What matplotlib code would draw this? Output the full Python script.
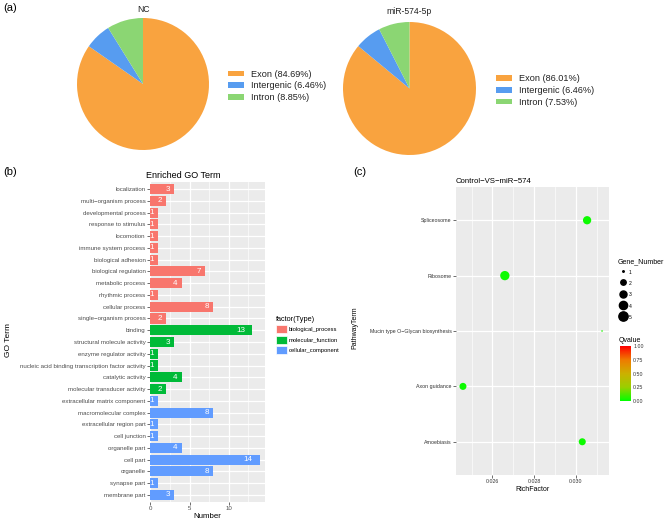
import numpy as np
import matplotlib
matplotlib.use("Agg")
from matplotlib import pyplot as plt
from matplotlib.patches import Patch
from matplotlib.lines import Line2D
from matplotlib.colors import LinearSegmentedColormap, Normalize
from matplotlib.ticker import MultipleLocator

plt.rcParams['font.family'] = ['Liberation Sans', 'DejaVu Sans']

# (a) pie data
pie_names = ["Exon", "Intergenic", "Intron"]
nc_pct = [84.69, 6.46, 8.85]
mir_pct = [86.01, 6.46, 7.53]
pie_colors = ["#f9a33f", "#579cf0", "#8bd673"]

# (b) enriched GO terms
go_terms = ["localization", "multi\u2212organism process", "developmental process",
            "response to stimulus", "locomotion", "immune system process",
            "biological adhesion", "biological regulation", "metabolic process",
            "rhythmic process", "cellular process", "single\u2212organism process",
            "binding", "structural molecule activity", "enzyme regulator activity",
            "nucleic acid binding transcription factor activity", "catalytic activity",
            "molecular transducer activity", "extracellular matrix component",
            "macromolecular complex", "extracellular region part", "cell junction",
            "organelle part", "cell part", "organelle", "synapse part", "membrane part"]
go_counts = [3, 2, 1, 1, 1, 1, 1, 7, 4, 1, 8, 2,
             13, 3, 1, 1, 4, 2,
             1, 8, 1, 1, 4, 14, 8, 1, 3]
go_types = (["biological_process"] * 12 + ["molecular_function"] * 6
            + ["cellular_component"] * 9)
type_names = ["biological_process", "molecular_function", "cellular_component"]
type_colors = ["#F8766D", "#00BA38", "#619CFF"]

# (c) KEGG enrichment
pathways = ["Spliceosome", "Ribosome", "Mucin type O\u2212Glycan biosynthesis",
            "Axon guidance", "Amoebiasis"]
rich_factor = [4 / 131, 5 / 188, 1 / 32, 3 / 122, 3 / 99]
gene_number = [4, 5, 1, 3, 3]
qvalue = [0.02, 0.02, 0.05, 0.02, 0.02]

W, H = 667, 520
fig = plt.figure(figsize=(W / 100, H / 100), dpi=100)


def box(left, top, right, bottom):
    """ pixel box -> figure fraction rect """
    return [left / W, 1 - bottom / H, (right - left) / W, (bottom - top) / H]


def fx(x):
    return x / W


def fy(y):
    return 1 - y / H


def marker_diam(n):
    """ ggplot-like area scale, diameter in points """
    size = 1 + 5 * np.sqrt((n - 1) / 4)
    return size * 1.55 * 0.72


# ---- (a) pies ----
def draw_pie(rect, values, title, title_y, leg_x, leg_y):
    ax = fig.add_axes(box(*rect))
    wedges, _ = ax.pie(values, colors=pie_colors, startangle=90, counterclock=False,
                       wedgeprops=dict(linewidth=0))
    ax.set_xlim(-1, 1)
    ax.set_ylim(-1, 1)
    fig.text(fx((rect[0] + rect[2]) / 2), fy(title_y), title, ha='center', va='center',
             fontsize=6.2, color='#222222')
    labels = [f"{n} ({v:.2f}%)" for n, v in zip(pie_names, values)]
    fig.legend(wedges, labels, loc='center left', bbox_to_anchor=(fx(leg_x), fy(leg_y)),
               frameon=False, fontsize=6.6, handlelength=1.75, handleheight=0.55,
               handletextpad=0.75, labelspacing=0.3, borderpad=0, borderaxespad=0,
               labelcolor='#222222')


draw_pie((77, 18, 209, 150), nc_pct, "NC", 10, 228, 86)
draw_pie((343, 22, 476, 155), mir_pct, "miR-574-5p", 12, 496, 90.5)

for lbl, x, y in [("(a)", 3, 8), ("(b)", 3, 172), ("(c)", 353, 172)]:
    fig.text(fx(x), fy(y), lbl, ha='left', va='center', fontsize=8)

# ---- (b) bar chart ----
axb = fig.add_axes(box(150, 182, 265, 502))
axb.set_facecolor('#EBEBEB')
ypos = np.arange(len(go_terms))
cmap_type = dict(zip(type_names, type_colors))
axb.barh(ypos, go_counts, height=0.86, color=[cmap_type[t] for t in go_types], zorder=3)
for y, v in zip(ypos, go_counts):
    s = str(v)
    axb.annotate(s, (v, y), xytext=(-2.2 * len(s) - 0.7, 0), textcoords='offset points',
                 ha='right', va='center', color='white', fontsize=5.8, zorder=4)
axb.set_ylim(len(go_terms) - 0.4, -0.6)
axb.set_xlim(-0.05, 14.65)
axb.set_yticks(ypos)
axb.set_yticklabels(go_terms)
axb.set_xticks([0, 5, 10])
axb.xaxis.set_minor_locator(MultipleLocator(2.5))
axb.grid(which='major', color='white', linewidth=0.9, zorder=0)
axb.grid(which='minor', axis='x', color='white', linewidth=0.45, zorder=0)
axb.set_axisbelow(True)
for s in axb.spines.values():
    s.set_visible(False)
axb.tick_params(axis='both', which='major', length=2, width=0.5, color='#333333',
                labelcolor='#4D4D4D', labelsize=4.4, pad=1.2)
axb.tick_params(axis='both', which='minor', length=0)
axb.set_title("Enriched GO Term", fontsize=6.5, loc='left', x=-0.035, pad=3)
axb.set_xlabel("Number", fontsize=5.7, labelpad=1)
fig.text(fx(8), fy(340), "GO Term", rotation=90, ha='center', va='center', fontsize=6)

leg_handles = [Patch(facecolor=c, edgecolor='white', linewidth=0.5) for c in type_colors]
legb = fig.legend(leg_handles, type_names, loc='upper left',
                  bbox_to_anchor=(fx(276), fy(316)), frameon=False, fontsize=4.2,
                  title="factor(Type)", title_fontsize=5.3, alignment='left',
                  handlelength=1.9, handleheight=1.75, handletextpad=0.35,
                  labelspacing=0.4, borderpad=0, borderaxespad=0)

# ---- (c) bubble chart ----
axc = fig.add_axes(box(456, 187, 609, 475))
axc.set_facecolor('#EBEBEB')
qcmap = LinearSegmentedColormap.from_list(
    "q", ["#00FF00", "#9ACF00", "#CCB000", "#EF7A00", "#FF0000"])
norm = Normalize(0, 1)
py = np.arange(len(pathways))
axc.scatter(rich_factor, py, s=[marker_diam(n) ** 2 for n in gene_number],
            c=qvalue, cmap=qcmap, norm=norm, linewidths=0, zorder=3)
axc.set_ylim(len(pathways) - 0.4, -0.6)
span = max(rich_factor) - min(rich_factor)
axc.set_xlim(min(rich_factor) - 0.05 * span, max(rich_factor) + 0.05 * span)
axc.set_yticks(py)
axc.set_yticklabels(pathways)
axc.set_xticks([0.026, 0.028, 0.030])
axc.set_xticklabels(["0.026", "0.028", "0.030"])
axc.xaxis.set_minor_locator(MultipleLocator(0.001))
axc.grid(which='major', color='white', linewidth=0.9, zorder=0)
axc.grid(which='minor', axis='x', color='white', linewidth=0.45, zorder=0)
axc.set_axisbelow(True)
for s in axc.spines.values():
    s.set_visible(False)
axc.tick_params(axis='both', which='major', length=2, width=0.5, color='#333333',
                labelcolor='#333333', labelsize=3.8, pad=1.2)
axc.tick_params(axis='both', which='minor', length=0)
axc.set_title("Control\u2212VS\u2212miR\u2212574", fontsize=5.6, loc='left', pad=3)
axc.set_xlabel("RichFactor", fontsize=5, labelpad=1)
fig.text(fx(355), fy(328), "PathwayTerm", rotation=90, ha='center', va='center',
         fontsize=5)

size_levels = [1, 2, 3, 4, 5]
size_handles = [Line2D([], [], linestyle='none', marker='o', color='black',
                       markersize=marker_diam(n)) for n in size_levels]
fig.legend(size_handles, [str(n) for n in size_levels], loc='upper left',
           bbox_to_anchor=(fx(618), fy(258)), frameon=False, fontsize=3.6,
           title="Gene_Number", title_fontsize=5, alignment='left',
           handlelength=2.0, handleheight=2.2, handletextpad=0.1,
           labelspacing=0.6, borderpad=0, borderaxespad=0)

fig.text(fx(619), fy(340), "Qvalue", ha='left', va='center', fontsize=5)
cax = fig.add_axes(box(620, 346, 631, 401))
cb = fig.colorbar(plt.cm.ScalarMappable(norm=norm, cmap=qcmap), cax=cax)
cb.outline.set_visible(False)
cb.set_ticks([0, 0.25, 0.5, 0.75, 1.0])
cb.set_ticklabels(["0.00", "0.25", "0.50", "0.75", "1.00"])
cax.tick_params(length=0, labelsize=3.8, pad=1.5, labelcolor='#333333')

fig.savefig("out.png", dpi=100)
